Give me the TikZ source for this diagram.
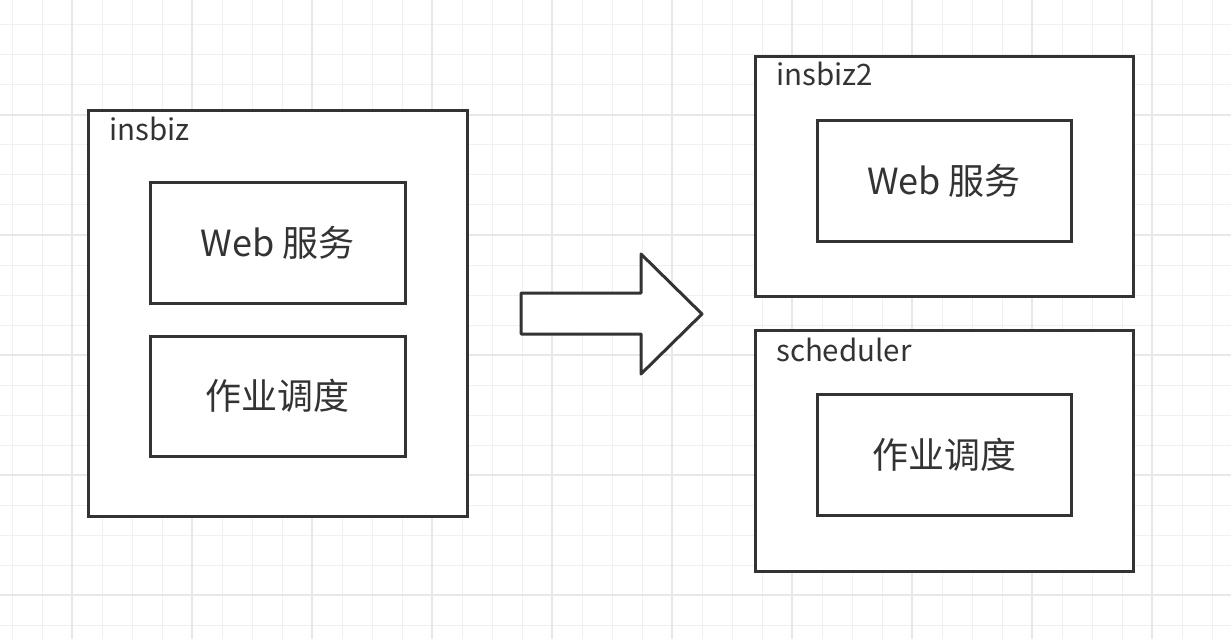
\documentclass[tikz,border=0pt]{standalone}
\usepackage{fontspec}
\setmainfont{Noto Sans CJK SC}
\begin{document}
\begin{tikzpicture}[x=1pt,y=-1pt,
  ink/.style={draw=black!80, line width=3pt},
  outerbox/.style={ink, fill=white, inner sep=0pt},
  innerbox/.style={ink, fill=white, inner sep=0pt, minimum width=255pt, minimum height=120pt,
    font=\fontsize{36pt}{36pt}\selectfont, text=black!80},
  tag/.style={anchor=base west, inner sep=0pt, font=\fontsize{29.5pt}{29.5pt}\selectfont, text=black!80},
  gridminor/.style={draw=black!6, line width=1pt},
  gridmajor/.style={draw=black!9, line width=1.5pt}]
\useasboundingbox (0,0) rectangle (1231,639);
\fill[white] (0,0) rectangle (1231,639);
% background grid
\foreach \gx in {12,42,...,1230} \draw[gridminor] (\gx,0) -- (\gx,639);
\foreach \gy in {25,55,...,638} \draw[gridminor] (0,\gy) -- (1231,\gy);
\foreach \gx in {72,192,...,1230} \draw[gridmajor] (\gx,0) -- (\gx,639);
\foreach \gy in {115,235,...,638} \draw[gridmajor] (0,\gy) -- (1231,\gy);

% left container
\node[outerbox, minimum width=379pt, minimum height=405pt] (insbiz) at (277.5,313.5) {};
\node[tag] (insbizlbl) at (109,141) {insbiz};
\node[innerbox] (web1) at (277.5,243) {Web 服务};
\node[innerbox] (job1) at (277.5,396) {作业调度};

% block arrow
\draw[ink, fill=white, line join=round]
  (521,293) -- (641,293) -- (641,254) -- (702,314) -- (641,374) -- (641,334) -- (521,334) -- cycle;

% right containers
\node[outerbox, minimum width=378pt, minimum height=239pt] (insbiz2) at (944,176.5) {};
\node[tag] (insbiz2lbl) at (776,86) {insbiz2};
\node[innerbox, minimum width=254pt] (web2) at (944,181) {Web 服务};

\node[outerbox, minimum width=378pt, minimum height=241pt] (sched) at (944,450.5) {};
\node[tag] (schedlbl) at (776,361) {scheduler};
\node[innerbox, minimum width=254pt, minimum height=121pt] (job2) at (944,454.5) {作业调度};
\end{tikzpicture}
\end{document}
